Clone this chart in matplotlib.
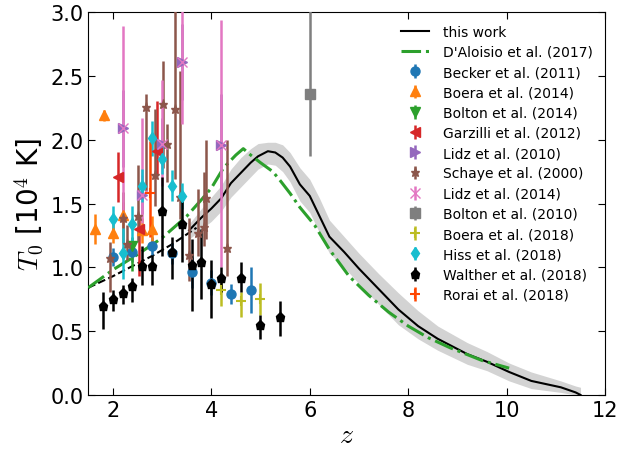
import matplotlib
matplotlib.use("Agg")
import matplotlib.pyplot as plt
import numpy as np

plt.rcParams['mathtext.fontset'] = 'cm'

# this work: low-z extrapolation (dashed) and simulation result (solid) with scatter band
z_extrap = [1.5, 2.0, 2.5, 2.8, 3.2, 3.7]
T_extrap = [0.84, 0.93, 1.03, 1.09, 1.18, 1.31]

z_model = [3.55, 3.8, 4.0, 4.2, 4.4, 4.6, 4.8, 4.95, 5.15, 5.3, 5.45, 5.6, 5.8,
           6.0, 6.2, 6.4, 6.7, 7.0, 7.4, 7.8, 8.2, 8.6, 9.2, 9.6, 10.05, 10.5,
           11.1, 11.4, 11.5]
T_model = [1.29, 1.39, 1.46, 1.54, 1.66, 1.74, 1.82, 1.87, 1.91, 1.90, 1.86, 1.79,
           1.65, 1.56, 1.40, 1.24, 1.12, 0.99, 0.83, 0.67, 0.54, 0.44, 0.32, 0.26,
           0.18, 0.11, 0.06, 0.02, 0.0]
band_lo = [1.22, 1.30, 1.36, 1.44, 1.55, 1.63, 1.71, 1.77, 1.81, 1.80, 1.75, 1.67,
           1.52, 1.43, 1.27, 1.11, 1.00, 0.87, 0.71, 0.55, 0.44, 0.35, 0.24, 0.19,
           0.11, 0.05, 0.02, 0.0, 0.0]
band_hi = [1.34, 1.46, 1.55, 1.64, 1.77, 1.86, 1.93, 1.97, 1.98, 1.98, 1.96, 1.90,
           1.78, 1.69, 1.54, 1.37, 1.24, 1.11, 0.95, 0.80, 0.66, 0.54, 0.41, 0.34,
           0.25, 0.18, 0.11, 0.07, 0.06]

# D'Aloisio et al. (2017)
z_dal = [1.5, 2.0, 2.5, 3.0, 3.5, 3.8, 4.0, 4.25, 4.5, 4.65, 4.8, 5.0, 5.25, 5.4,
         5.6, 5.8, 6.1, 6.4, 6.8, 7.2, 7.6, 8.0, 8.4, 8.85, 9.5, 10.05]
T_dal = [0.84, 0.98, 1.10, 1.23, 1.40, 1.53, 1.62, 1.78, 1.88, 1.93, 1.88, 1.82,
         1.75, 1.68, 1.58, 1.47, 1.33, 1.14, 0.93, 0.78, 0.65, 0.54, 0.45, 0.37,
         0.27, 0.21]

# observational measurements
z_becker = [2.0, 2.4, 2.8, 3.2, 3.6, 4.0, 4.4, 4.8]
T_becker = [1.08, 1.12, 1.17, 1.11, 0.96, 0.88, 0.79, 0.82]
e_becker = [0.07, 0.08, 0.07, 0.08, 0.12, 0.10, 0.08, 0.18]

z_boera14 = [1.63, 1.82, 2.0, 2.2, 2.6, 2.8]
T_boera14 = [1.30, 2.19, 1.27, 1.41, 1.29, 1.30]
e_boera14 = [0.12, 0.04, 0.08, 0.10, 0.10, 0.10]

z_bolton14 = [2.4]
T_bolton14 = [1.17]
elo_bolton14 = [0.20]
ehi_bolton14 = [0.07]

z_garz = [2.1, 2.53, 2.9]
T_garz = [1.71, 1.30, 1.91]
elo_garz = [0.20, 0.37, 0.19]
ehi_garz = [0.19, 0.08, 0.39]

z_lidz = [2.2, 2.6, 3.0, 3.4, 4.2]
T_lidz = [2.09, 1.57, 1.97, 2.61, 1.96]
elo_lidz10 = [0.30, 0.15, 0.20, 0.30, 0.40]
ehi_lidz10 = [0.30, 0.15, 0.20, 0.30, 0.40]
elo_lidz14 = [0.69, 0.22, 0.33, 0.49, 0.96]
ehi_lidz14 = [0.80, 0.60, 0.50, 0.60, 0.98]

z_schaye = [1.95, 2.2, 2.28, 2.51, 2.67, 2.85, 3.02, 3.1, 3.26, 3.37, 3.55, 3.73,
            3.85, 3.9, 4.31]
T_schaye = [1.07, 1.39, 1.18, 1.40, 2.26, 1.72, 2.28, 1.97, 2.24, 1.55, 1.10, 1.27,
            1.32, 1.54, 1.15]
elo_schaye = [0.26, 0.20, 0.12, 0.20, 0.66, 0.24, 0.50, 0.30, 0.55, 0.17, 0.21,
              0.18, 0.15, 0.32, 0.22]
ehi_schaye = [0.13, 0.20, 0.15, 0.40, 0.10, 0.52, 0.34, 0.15, 0.80, 0.99, 0.29,
              0.34, 0.43, 0.46, 0.85]

z_bolton10 = [6.0]
T_bolton10 = [2.36]
elo_bolton10 = [0.49]
ehi_bolton10 = [0.80]

z_boera18 = [4.2, 4.6, 5.0]
T_boera18 = [0.82, 0.74, 0.75]
elo_boera18 = [0.12, 0.13, 0.12]
ehi_boera18 = [0.07, 0.07, 0.13]

z_hiss = [2.0, 2.2, 2.4, 2.6, 2.8, 3.0, 3.2, 3.4]
T_hiss = [1.38, 1.11, 1.34, 1.64, 2.01, 1.85, 1.64, 1.56]
e_hiss = [0.10, 0.20, 0.14, 0.13, 0.14, 0.12, 0.12, 0.10]

z_walther = [1.8, 2.0, 2.2, 2.4, 2.6, 2.8, 3.0, 3.2, 3.4, 3.6, 3.8, 4.0, 4.2, 4.6,
             5.0, 5.4]
T_walther = [0.70, 0.75, 0.80, 0.85, 1.01, 1.01, 1.44, 1.12, 1.34, 1.02, 1.04, 0.87,
             0.92, 0.92, 0.55, 0.61]
elo_walther = [0.18, 0.09, 0.09, 0.12, 0.15, 0.15, 0.35, 0.21, 0.30, 0.36, 0.29,
               0.27, 0.11, 0.11, 0.11, 0.15]
ehi_walther = [0.11, 0.07, 0.06, 0.07, 0.16, 0.09, 0.27, 0.12, 0.19, 0.20, 0.26,
               0.19, 0.08, 0.12, 0.08, 0.13]

z_rorai = [2.75]
T_rorai = [1.58]
elo_rorai = [0.34]
ehi_rorai = [0.41]

fig = plt.figure(figsize=(6.39, 4.52), dpi=100)
ax = fig.add_axes([0.138, 0.124, 0.809, 0.847])

ax.fill_between(z_model, band_lo, band_hi, color='lightgray', lw=0, zorder=1)
ax.plot(z_extrap, T_extrap, color='k', ls='--', lw=1.5, zorder=2)
ax.plot(z_model, T_model, color='k', lw=1.5, label='this work', zorder=3)
ax.plot(z_dal, T_dal, color='tab:green', ls='-.', lw=2.2,
        label="D'Aloisio et al. (2017)", zorder=3)

eb = dict(ls='none', elinewidth=1.8, capsize=0, ms=6.5, zorder=4)
ax.errorbar(z_becker, T_becker, yerr=e_becker, fmt='o', color='tab:blue',
            label='Becker et al. (2011)', **eb)
ax.errorbar(z_boera14, T_boera14, yerr=e_boera14, fmt='^', color='tab:orange',
            label='Boera et al. (2014)', **eb)
ax.errorbar(z_bolton14, T_bolton14, yerr=[elo_bolton14, ehi_bolton14], fmt='v',
            color='tab:green', label='Bolton et al. (2014)', **eb)
ax.errorbar(z_garz, T_garz, yerr=[elo_garz, ehi_garz], fmt='<', color='tab:red',
            label='Garzilli et al. (2012)', **eb)
ax.errorbar(z_lidz, T_lidz, yerr=[elo_lidz10, ehi_lidz10], fmt='>',
            color='tab:purple', label='Lidz et al. (2010)', **eb)
ax.errorbar(z_schaye, T_schaye, yerr=[elo_schaye, ehi_schaye], fmt='*',
            color='tab:brown', label='Schaye et al. (2000)', **eb)
ax.errorbar(z_lidz, T_lidz, yerr=[elo_lidz14, ehi_lidz14], fmt='x',
            color='tab:pink', label='Lidz et al. (2014)', **eb)
ax.errorbar(z_bolton10, T_bolton10, yerr=[elo_bolton10, ehi_bolton10], fmt='s',
            color='tab:gray', label='Bolton et al. (2010)', **eb)
ax.errorbar(z_boera18, T_boera18, yerr=[elo_boera18, ehi_boera18], fmt='+',
            color='tab:olive', mew=1.5, label='Boera et al. (2018)', **eb)
ax.errorbar(z_hiss, T_hiss, yerr=e_hiss, fmt='d', color='tab:cyan',
            label='Hiss et al. (2018)', **eb)
ax.errorbar(z_walther, T_walther, yerr=[elo_walther, ehi_walther], fmt='p',
            color='k', label='Walther et al. (2018)', **eb)
ax.errorbar(z_rorai, T_rorai, yerr=[elo_rorai, ehi_rorai], fmt='+',
            color='orangered', mew=1.5, label='Rorai et al. (2018)', **eb)

ax.set_xlim(1.5, 12)
ax.set_ylim(0, 3)
ax.set_xticks([2, 4, 6, 8, 10, 12])
ax.set_yticks([0.0, 0.5, 1.0, 1.5, 2.0, 2.5, 3.0])
ax.tick_params(direction='in', top=True, right=True, labelsize=15, length=5)
ax.set_xlabel(r'$z$', fontsize=20, labelpad=0)
ax.set_ylabel(r'$T_0$ [10$^4$ K]', fontsize=20)

ax.legend(loc='upper right', fontsize=10, frameon=False, handletextpad=1.0,
          labelspacing=0.45)

fig.savefig('out.png', dpi=100)
